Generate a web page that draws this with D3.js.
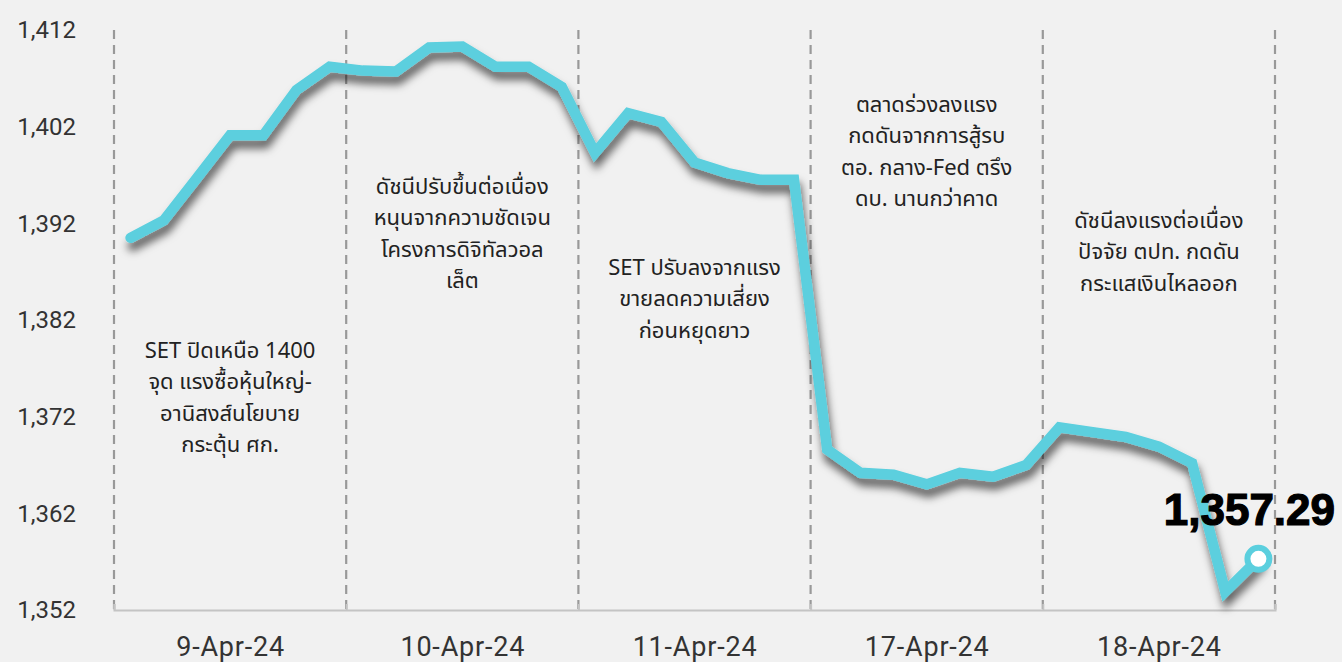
<!DOCTYPE html>
<html>
<head>
<meta charset="utf-8">
<script src="https://cdn.jsdelivr.net/npm/d3@7"></script>
<style>
  html, body { margin: 0; padding: 0; background: #f1f1f1; }
  svg { display: block; }
</style>
</head>
<body>
<svg id="chart" width="1342" height="662"></svg>
<script>
// ---- data ----
const days = ["9-Apr-24", "10-Apr-24", "11-Apr-24", "17-Apr-24", "18-Apr-24"];
const pointsPerDay = 7;
const setIndex = [
  1390.5, 1392.3, 1396.7, 1401.1, 1401.1, 1405.8, 1408.2,
  1407.8, 1407.7, 1410.2, 1410.3, 1408.2, 1408.2, 1406.1,
  1399.3, 1403.4, 1402.5, 1398.3, 1397.2, 1396.5, 1396.5,
  1368.6, 1366.2, 1366.0, 1365.0, 1366.2, 1365.8, 1367.0,
  1370.9, 1370.4, 1369.9, 1368.9, 1367.2, 1353.9, 1357.29
];
const yTicks = [1352, 1362, 1372, 1382, 1392, 1402, 1412];
const lastLabel = "1,357.29";
const notes = [
  ["SET ปิดเหนือ 1400", "จุด แรงซื้อหุ้นใหญ่-", "อานิสงส์นโยบาย", "กระตุ้น ศก."],
  ["ดัชนีปรับขึ้นต่อเนื่อง", "หนุนจากความชัดเจน", "โครงการดิจิทัลวอล", "เล็ต"],
  ["SET ปรับลงจากแรง", "ขายลดความเสี่ยง", "ก่อนหยุดยาว"],
  ["ตลาดร่วงลงแรง", "กดดันจากการสู้รบ", "ตอ. กลาง-Fed ตรึง", "ดบ. นานกว่าคาด"],
  ["ดัชนีลงแรงต่อเนื่อง", "ปัจจัย ตปท. กดดัน", "กระแสเงินไหลออก"]
];
const noteTop = [350, 186, 267, 104, 220];

// ---- layout ----
const svg = d3.select("#chart");
const mLeft = 114, mRight = 1275, mTop = 30, mBottom = 610;
const n = days.length * pointsPerDay;
const x = d3.scaleLinear().domain([0, n]).range([mLeft, mRight]);
const y = d3.scaleLinear().domain([1352, 1412]).range([mBottom, mTop]);

const defs = svg.append("defs");
const f = defs.append("filter").attr("id", "shadow")
  .attr("x", "-10%").attr("y", "-10%").attr("width", "120%").attr("height", "135%");
f.append("feDropShadow").attr("dx", 2).attr("dy", 8).attr("stdDeviation", 4.5)
  .attr("flood-color", "#000").attr("flood-opacity", 0.6);

// y axis labels
const yAxis = svg.append("g").attr("transform", `translate(${mLeft - 38},0)`)
  .call(d3.axisLeft(y).tickValues(yTicks).tickSize(0).tickPadding(0).tickFormat(d3.format(",")));
yAxis.select(".domain").remove();
yAxis.selectAll("text").attr("font-family", "Roboto, 'Liberation Sans', sans-serif")
  .attr("font-size", 24).attr("fill", "#333");

// divider dashed lines
const dividers = d3.range(0, n + 1, pointsPerDay);
svg.append("g").selectAll("line").data(dividers).join("line")
  .attr("x1", d => x(d)).attr("x2", d => x(d))
  .attr("y1", mTop).attr("y2", mBottom)
  .attr("stroke", "#999").attr("stroke-width", 2.2).attr("stroke-dasharray", "9,6");

// bottom axis line with ticks
const xAxisLine = svg.append("g").attr("transform", `translate(0,${mBottom})`)
  .call(d3.axisBottom(x).tickValues(dividers).tickSize(-6).tickSizeOuter(-6).tickFormat(""));
xAxisLine.selectAll("path, line").attr("stroke", "#c4c4c4").attr("stroke-width", 2);

// day labels
const xLab = svg.append("g").attr("transform", `translate(0,${mBottom})`)
  .call(d3.axisBottom(x).tickValues(days.map((d, i) => i * pointsPerDay + pointsPerDay / 2))
    .tickSize(0).tickPadding(0).tickFormat((d, i) => days[i]));
xLab.select(".domain").remove();
xLab.selectAll("text").attr("font-family", "Roboto, 'Liberation Sans', sans-serif")
  .attr("font-size", 27).attr("letter-spacing", 0.8).attr("fill", "#333")
  .attr("dy", null).attr("y", 46);

// annotations
const ng = svg.append("g").attr("font-family", "'Noto Sans', 'Noto Sans Thai', sans-serif")
  .attr("font-size", 22).attr("fill", "#222").attr("text-anchor", "middle");
notes.forEach((lines, i) => {
  const cx = x(i * pointsPerDay + pointsPerDay / 2);
  ng.append("g").selectAll("text").data(lines).join("text")
    .attr("x", cx).attr("y", (d, j) => noteTop[i] + j * 31.5)
    .attr("dy", "0.35em").text(d => d);
});

// line
const line = d3.line().x((d, i) => x(i + 0.5)).y(d => y(d));
svg.append("path").datum(setIndex)
  .attr("d", line).attr("fill", "none")
  .attr("stroke", "#5bcfde").attr("stroke-width", 10.5)
  .attr("stroke-linecap", "round").attr("stroke-linejoin", "miter")
  .attr("filter", "url(#shadow)");

// end marker
const li = setIndex.length - 1;
svg.append("circle").attr("cx", x(li + 0.5)).attr("cy", y(setIndex[li]))
  .attr("r", 11).attr("fill", "#fff").attr("stroke", "#5bcfde").attr("stroke-width", 6);

svg.append("text").attr("x", x(li + 0.5) - 9).attr("y", y(setIndex[li]) - 34)
  .attr("text-anchor", "middle").attr("font-family", "'Liberation Sans', Arial, sans-serif")
  .attr("font-weight", "bold").attr("font-size", 44).attr("fill", "#000")
  .attr("stroke", "#000").attr("stroke-width", 1.2)
  .text(lastLabel);
</script>
</body>
</html>
